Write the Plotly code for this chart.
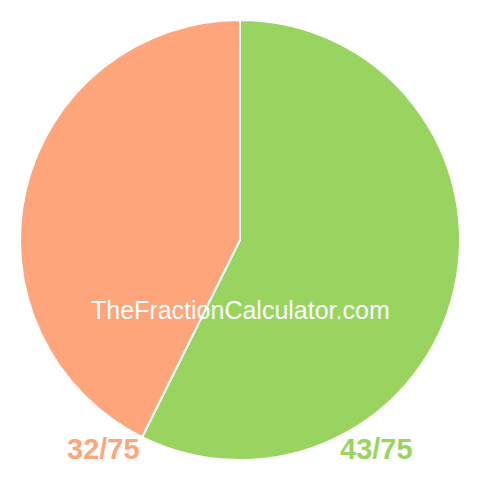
import plotly.graph_objects as go

# Data
labels = ['43/75', '32/75']
values = [43, 32]
colors = ['#99d460', '#fea57c']

W = 464  # page body adds 8px margin on each side -> 480 window

fig = go.Figure(go.Pie(
    labels=labels,
    values=values,
    sort=False,
    direction='clockwise',
    rotation=0,
    marker=dict(colors=colors, line=dict(color='white', width=2)),
    textinfo='none',
    hoverinfo='label',
    domain=dict(x=[12/W, 452/W], y=[12/W, 452/W]),
    showlegend=False,
))

# Fraction labels under the pie
fig.add_annotation(x=368/W, y=1-441/W, xref='paper', yref='paper',
                   xanchor='center', yanchor='middle',
                   text='<b>43/75</b>', showarrow=False,
                   font=dict(family='Liberation Sans, Arial', size=29, color=colors[0]))
fig.add_annotation(x=95/W, y=1-441/W, xref='paper', yref='paper',
                   xanchor='center', yanchor='middle',
                   text='<b>32/75</b>', showarrow=False,
                   font=dict(family='Liberation Sans, Arial', size=29, color=colors[1]))

# Watermark
fig.add_annotation(x=0.5, y=1-302/W, xref='paper', yref='paper',
                   xanchor='center', yanchor='middle',
                   text='TheFractionCalculator.com', showarrow=False,
                   font=dict(family='Liberation Sans, Arial', size=25, color='white'))

fig.update_layout(
    width=W, height=W,
    margin=dict(l=0, r=0, t=0, b=0),
    paper_bgcolor='white',
    plot_bgcolor='white',
)

fig.write_html("out.html")
